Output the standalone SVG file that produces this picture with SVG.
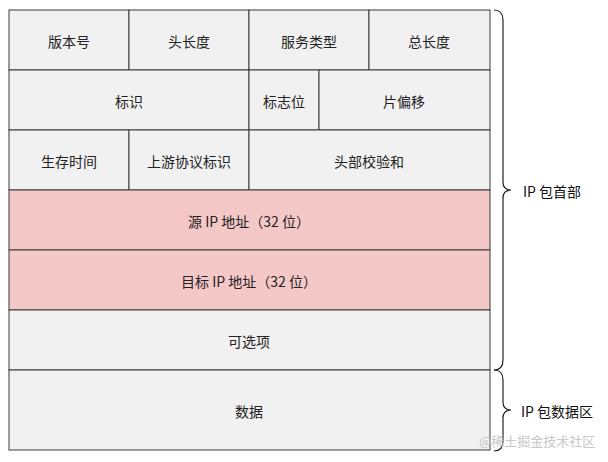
<svg xmlns="http://www.w3.org/2000/svg" width="608" height="462" viewBox="0 0 608 462">
<style>
.c{fill:#f1f1f1;stroke:#3a3a3a;stroke-width:1}
.p{fill:#f5c8c8;stroke:#3a3a3a;stroke-width:1}
.t{font-family:"Noto Sans CJK SC","Liberation Sans",sans-serif;font-size:14px;fill:#222;text-anchor:middle;dominant-baseline:central}
.l{font-family:"Noto Sans CJK SC","Liberation Sans",sans-serif;font-size:14px;fill:#111;dominant-baseline:central}
.b{fill:none;stroke:#222;stroke-width:1.2}
.w{font-family:"Noto Sans CJK SC",sans-serif;font-size:13px;fill:#c8c8c8}
</style>
<rect width="608" height="462" fill="#ffffff"/>
<g id="r1c1"><rect class="c" x="9" y="10" width="120" height="60"/><text class="t" x="69" y="41">版本号</text></g>
<g id="r1c2"><rect class="c" x="129" y="10" width="120" height="60"/><text class="t" x="189" y="41">头长度</text></g>
<g id="r1c3"><rect class="c" x="249" y="10" width="120" height="60"/><text class="t" x="309" y="41">服务类型</text></g>
<g id="r1c4"><rect class="c" x="369" y="10" width="121" height="60"/><text class="t" x="429" y="41">总长度</text></g>
<g id="r2c1"><rect class="c" x="9" y="70" width="240" height="60"/><text class="t" x="129" y="101">标识</text></g>
<g id="r2c2"><rect class="c" x="249" y="70" width="70" height="60"/><text class="t" x="284" y="101">标志位</text></g>
<g id="r2c3"><rect class="c" x="319" y="70" width="171" height="60"/><text class="t" x="404" y="101">片偏移</text></g>
<g id="r3c1"><rect class="c" x="9" y="130" width="120" height="60"/><text class="t" x="69" y="161">生存时间</text></g>
<g id="r3c2"><rect class="c" x="129" y="130" width="120" height="60"/><text class="t" x="189" y="161">上游协议标识</text></g>
<g id="r3c3"><rect class="c" x="249" y="130" width="241" height="60"/><text class="t" x="369" y="161">头部校验和</text></g>
<g id="src"><rect class="p" x="9" y="190" width="481" height="60"/><text class="t" x="249" y="221">源 IP 地址（32 位）</text></g>
<g id="dst"><rect class="p" x="9" y="250" width="481" height="60"/><text class="t" x="249" y="281">目标 IP 地址（32 位）</text></g>
<g id="opt"><rect class="c" x="9" y="310" width="481" height="60"/><text class="t" x="249" y="341">可选项</text></g>
<g id="data"><rect class="c" x="9" y="370" width="481" height="80"/><text class="t" x="249" y="411">数据</text></g>
<g id="connectors">
<path class="b" d="M494,10 Q503,10 503,20 L503,182 Q503,190 511,190 Q503,190 503,198 L503,360 Q503,370 494,370"/>
<path class="b" d="M494,370 Q503,370 503,380 L503,402 Q503,410 511,410 Q503,410 503,418 L503,441 Q503,451 494,451"/>
</g>
<g id="label-header"><text class="l" x="523" y="191">IP 包首部</text></g>
<g id="label-data"><text class="l" x="521" y="411">IP 包数据区</text></g>
<text class="w" x="479" y="446">@稀土掘金技术社区</text>
</svg>
